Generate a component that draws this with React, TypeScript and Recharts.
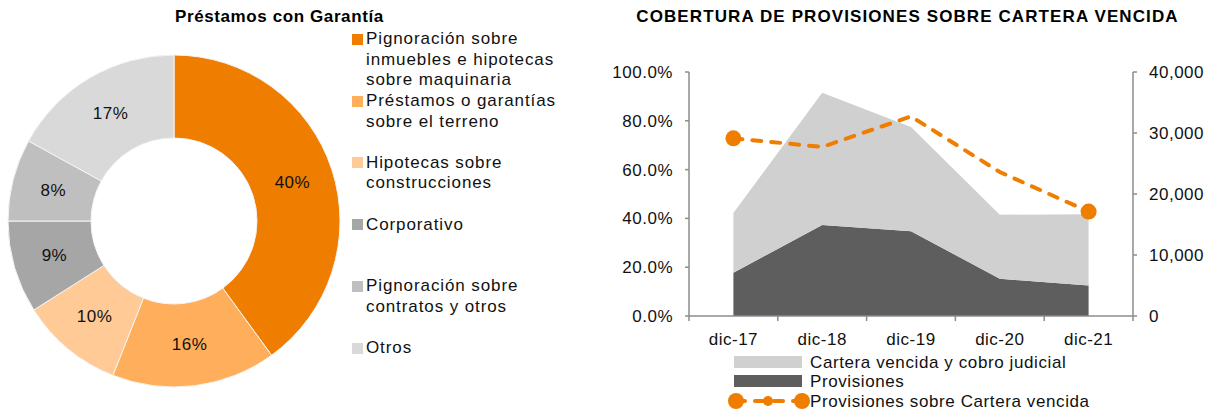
import { PieChart, Pie, Cell, ComposedChart, Area, Line, XAxis, YAxis } from 'recharts';

// Préstamos con Garantía
const garantiaLabels = [
  'Pignoración sobre\ninmuebles e hipotecas\nsobre maquinaria',
  'Préstamos o garantías\nsobre el terreno',
  'Hipotecas sobre\nconstrucciones',
  'Corporativo',
  'Pignoración sobre\ncontratos y otros',
  'Otros',
];
const garantiaValues = [40, 16, 10, 9, 8, 17];
const garantiaColors = ['#EE7D00', '#FFAF5C', '#FFCA95', '#A6A6A6', '#BFBFBF', '#D9D9D9'];

// Cobertura de provisiones
const periods = ['dic-17', 'dic-18', 'dic-19', 'dic-20', 'dic-21'];
const provisiones = [7100, 14900, 13900, 6100, 5000];
const carteraVencida = [9800, 21700, 17100, 10500, 11700];
const cobertura = [0.728, 0.693, 0.818, 0.59, 0.428];
const pctTicks = [0, 0.2, 0.4, 0.6, 0.8, 1];
const montoTicks = [0, 10000, 20000, 30000, 40000];
const seriesNames = ['Cartera vencida y cobro judicial', 'Provisiones', 'Provisiones sobre Cartera vencida'];

const ORANGE = '#EE7D00';
const LIGHT = '#D0D0D0';
const DARK = '#5E5E5E';
const AXIS = '#8C8C8C';
const FONT = '"Liberation Sans", Arial, sans-serif';

const pieData = garantiaLabels.map((name, i) => ({ name, value: garantiaValues[i] }));

const chartData = periods.map((p, i) => ({
  x: i + 0.5,
  periodo: p,
  provisiones: provisiones[i],
  cartera: carteraVencida[i],
  cobertura: cobertura[i],
}));

// tick marks at band edges, labels at band centers
const xTicks = periods.flatMap((_, i) => [i, i + 0.5]).concat(periods.length);

const RADIAN = Math.PI / 180;

function renderPieLabel(props: any) {
  const { cx, cy, midAngle, innerRadius, outerRadius, value } = props;
  const r = (innerRadius + outerRadius) / 2;
  const x = cx + r * Math.cos(-midAngle * RADIAN);
  const y = cy + r * Math.sin(-midAngle * RADIAN);
  return (
    <text x={x} y={y} textAnchor="middle" dominantBaseline="central" fontSize={17} fill="#111" letterSpacing={0.5}>
      {value}%
    </text>
  );
}

function XTick(props: any) {
  const { x, y, payload } = props;
  const v = payload.value;
  if (Number.isInteger(v)) {
    return <line x1={x} y1={y} x2={x} y2={y + 5} stroke={AXIS} strokeWidth={1.5} />;
  }
  return (
    <text x={x} y={y + 23} textAnchor="middle" dominantBaseline="central" fontSize={17} fill="#111" letterSpacing={0.5}>
      {periods[Math.floor(v)]}
    </text>
  );
}

function renderEndDot(props: any) {
  const { cx, cy, index } = props;
  if (index === 0 || index === periods.length - 1) {
    return <circle key={`dot-${index}`} cx={cx} cy={cy} r={8} fill={ORANGE} />;
  }
  return <g key={`dot-${index}`} />;
}

function GarantiaLegend() {
  return (
    <div style={{ position: 'absolute', left: 352, top: 0 }}>
      {garantiaLabels.map((label, i) => {
        const center = 39.5 + i * 61.8;
        return (
          <div key={label} style={{ position: 'absolute', top: center - 10.25, left: 0, width: 240 }}>
            <div
              style={{
                position: 'absolute',
                left: 0,
                top: 4.5,
                width: 11,
                height: 11,
                background: garantiaColors[i],
              }}
            />
            <div
              style={{
                position: 'absolute',
                left: 14,
                top: 0,
                whiteSpace: 'pre-line',
                fontSize: 17,
                lineHeight: '20.5px',
                letterSpacing: 0.9,
                color: '#111',
              }}
            >
              {label}
            </div>
          </div>
        );
      })}
    </div>
  );
}

function CoberturaLegend() {
  return (
    <svg width={420} height={64} style={{ position: 'absolute', left: 720, top: 347 }}>
      <rect x={14} y={9} width={68} height={12} fill={LIGHT} />
      <rect x={14} y={28} width={68} height={12} fill={DARK} />
      <line x1={16} y1={54} x2={82} y2={54} stroke={ORANGE} strokeWidth={4} strokeDasharray="9 10" strokeLinecap="round" />
      <circle cx={16} cy={54} r={8} fill={ORANGE} />
      <circle cx={48} cy={54} r={5} fill={ORANGE} />
      <circle cx={82} cy={54} r={8} fill={ORANGE} />
      {seriesNames.map((name, i) => (
        <text
          key={name}
          x={90}
          y={15 + i * 19.5}
          dominantBaseline="central"
          fontSize={17}
          fill="#111"
          letterSpacing={0.6}
        >
          {name}
        </text>
      ))}
    </svg>
  );
}

export default function App() {
  return (
    <div
      style={{
        position: 'absolute',
        left: 0,
        top: 0,
        width: 1215,
        height: 411,
        background: '#fff',
        fontFamily: FONT,
        overflow: 'hidden',
      }}
    >
      <div
        style={{
          position: 'absolute',
          left: 175,
          top: 7,
          fontSize: 17,
          fontWeight: 'bold',
          letterSpacing: 0.6,
          color: '#000',
          whiteSpace: 'nowrap',
        }}
      >
        Préstamos con Garantía
      </div>

      <div style={{ position: 'absolute', left: 0, top: 0 }}>
        <PieChart width={600} height={411} margin={{ top: 0, right: 0, bottom: 0, left: 0 }}>
          <Pie
            data={pieData}
            dataKey="value"
            nameKey="name"
            cx={174}
            cy={221}
            innerRadius={83}
            outerRadius={166}
            startAngle={90}
            endAngle={-270}
            stroke="#f4f4f4"
            strokeWidth={1}
            label={renderPieLabel}
            labelLine={false}
            isAnimationActive={false}
          >
            {pieData.map((d, i) => (
              <Cell key={d.name} fill={garantiaColors[i]} />
            ))}
          </Pie>
        </PieChart>
      </div>
      <GarantiaLegend />

      <div
        style={{
          position: 'absolute',
          left: 600,
          width: 615,
          top: 7,
          textAlign: 'center',
          fontSize: 17,
          fontWeight: 'bold',
          letterSpacing: 1.1,
          color: '#000',
          whiteSpace: 'nowrap',
        }}
      >
        COBERTURA DE PROVISIONES SOBRE CARTERA VENCIDA
      </div>

      <div style={{ position: 'absolute', left: 600, top: 0 }}>
        <ComposedChart width={615} height={411} data={chartData} margin={{ top: 72, right: 0, left: 0, bottom: 65 }}>
          <XAxis
            dataKey="x"
            type="number"
            domain={[0, periods.length]}
            ticks={xTicks}
            interval={0}
            height={30}
            tickSize={0}
            tickMargin={0}
            tickLine={false}
            tick={<XTick />}
            axisLine={{ stroke: AXIS, strokeWidth: 1.5 }}
          />
          <YAxis
            yAxisId="pct"
            orientation="left"
            width={89}
            domain={[0, 1]}
            ticks={pctTicks}
            interval={0}
            tickFormatter={(v: number) => `${(v * 100).toFixed(1)}%`}
            tick={{ fontSize: 17, fill: '#111', letterSpacing: 0.5 }}
            tickSize={4}
            tickMargin={12}
            axisLine={{ stroke: AXIS, strokeWidth: 1.5 }}
            tickLine={{ stroke: AXIS, strokeWidth: 1.5 }}
          />
          <YAxis
            yAxisId="monto"
            orientation="right"
            width={82}
            domain={[0, 40000]}
            ticks={montoTicks}
            interval={0}
            tickFormatter={(v: number) => v.toLocaleString('en-US')}
            tick={{ fontSize: 17, fill: '#111', letterSpacing: 0.5 }}
            tickSize={4}
            tickMargin={12}
            axisLine={{ stroke: AXIS, strokeWidth: 1.5 }}
            tickLine={{ stroke: AXIS, strokeWidth: 1.5 }}
          />
          <Area
            yAxisId="monto"
            type="linear"
            dataKey="provisiones"
            name={seriesNames[1]}
            stackId="monto"
            fill={DARK}
            fillOpacity={1}
            stroke="none"
            dot={false}
            activeDot={false}
            isAnimationActive={false}
          />
          <Area
            yAxisId="monto"
            type="linear"
            dataKey="cartera"
            name={seriesNames[0]}
            stackId="monto"
            fill={LIGHT}
            fillOpacity={1}
            stroke="none"
            dot={false}
            activeDot={false}
            isAnimationActive={false}
          />
          <Line
            yAxisId="pct"
            type="linear"
            dataKey="cobertura"
            name={seriesNames[2]}
            stroke={ORANGE}
            strokeWidth={4}
            strokeDasharray="9 10"
            strokeLinecap="round"
            dot={renderEndDot}
            activeDot={false}
            isAnimationActive={false}
          />
        </ComposedChart>
      </div>
      <CoberturaLegend />
    </div>
  );
}
